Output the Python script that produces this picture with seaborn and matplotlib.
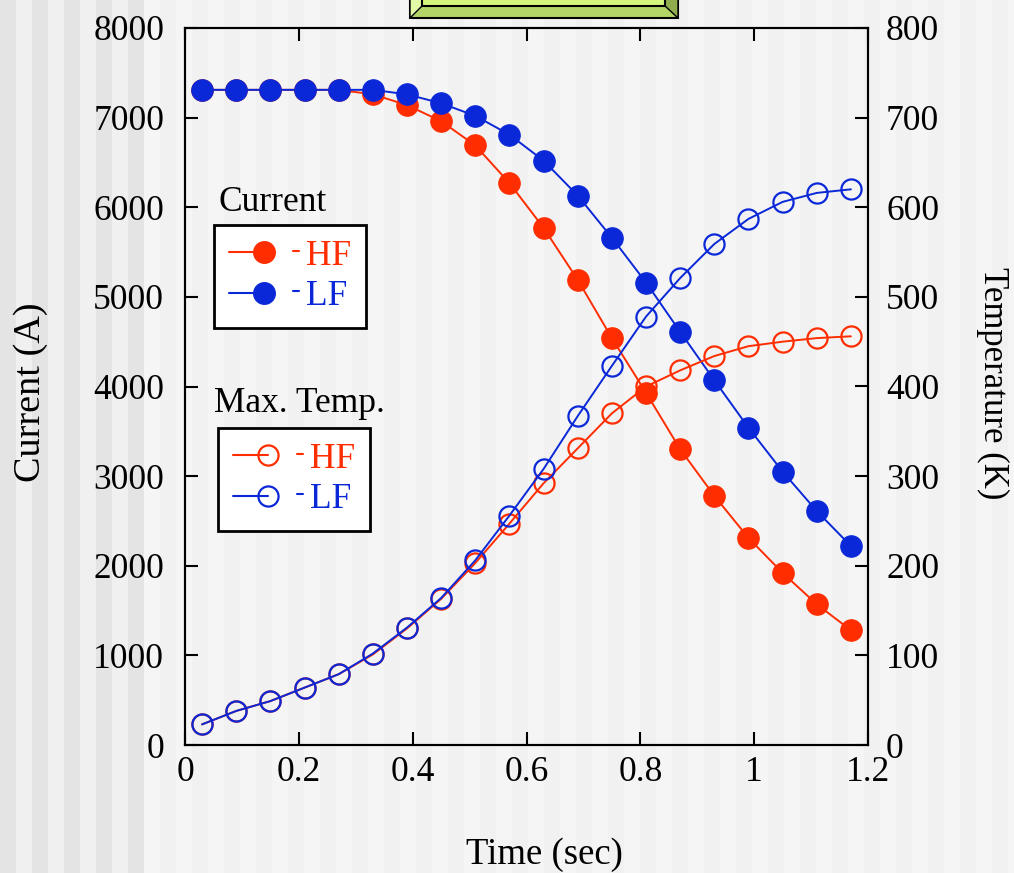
import numpy as np
import pandas as pd
import matplotlib
matplotlib.use("Agg")
import matplotlib.pyplot as plt
import seaborn as sns
from matplotlib.lines import Line2D
from matplotlib.patches import Rectangle, Polygon
from matplotlib.legend_handler import HandlerBase

# ---------------- data ----------------
time = [0.03, 0.09, 0.15, 0.21, 0.27, 0.33, 0.39, 0.45, 0.51, 0.57,
        0.63, 0.69, 0.75, 0.81, 0.87, 0.93, 0.99, 1.05, 1.11, 1.17]
hf_current = [7310, 7310, 7310, 7310, 7310, 7260, 7140, 6960, 6690, 6270,
              5770, 5190, 4540, 3930, 3300, 2780, 2310, 1920, 1570, 1280]
lf_current = [7310, 7310, 7310, 7310, 7310, 7310, 7260, 7160, 7020, 6810,
              6520, 6130, 5660, 5160, 4610, 4070, 3540, 3050, 2610, 2220]
hf_temp = [23, 38, 49, 64, 79, 101, 130, 163, 203, 247,
           292, 331, 370, 400, 418, 434, 445, 450, 454, 456]
lf_temp = [23, 38, 49, 64, 79, 102, 131, 164, 206, 256,
           308, 367, 423, 478, 521, 559, 587, 606, 616, 620]

x_ticks = [0, 0.2, 0.4, 0.6, 0.8, 1.0, 1.2]
x_tick_labels = ["0", "0.2", "0.4", "0.6", "0.8", "1", "1.2"]
y_left_ticks = [0, 1000, 2000, 3000, 4000, 5000, 6000, 7000, 8000]
y_right_ticks = [0, 100, 200, 300, 400, 500, 600, 700, 800]

RED = "#ff2d00"
BLUE = "#0a28d8"

sns.set_theme(style="ticks")
plt.rcParams["font.family"] = ["Liberation Serif", "DejaVu Serif"]
plt.rcParams["axes.linewidth"] = 1.5

W, H = 1014, 873
fig = plt.figure(figsize=(W / 100, H / 100), dpi=100)
fig.patch.set_facecolor("#f4f4f4")

# background stripes (decoration)
for i in range(int(np.ceil(W / 16))):
    x0 = i * 16
    if x0 < 144:
        c = "#e4e4e4" if i % 2 == 0 else "#f0f0f0"
    else:
        c = "#f1f1f1" if i % 2 == 0 else "#f5f5f5"
    fig.add_artist(Rectangle((x0 / W, 0), 16 / W, 1, transform=fig.transFigure,
                             facecolor=c, edgecolor="none", zorder=-10))

# green title button (partially visible at top)
def fp(x, y):
    return (x / W, 1 - y / H)
fig.add_artist(Polygon([fp(410, -2), fp(678, -2), fp(678, 18), fp(410, 18)],
                       closed=True, transform=fig.transFigure, facecolor="#b3d568",
                       edgecolor="black", lw=1.5, zorder=-5))
fig.add_artist(Polygon([fp(665, -2), fp(678, -2), fp(678, 18), fp(665, 6)],
                       closed=True, transform=fig.transFigure, facecolor="#8fac4e",
                       edgecolor="black", lw=1.0, zorder=-4))
fig.add_artist(Polygon([fp(410, -2), fp(422, -2), fp(422, 6), fp(410, 18)],
                       closed=True, transform=fig.transFigure, facecolor="#e2f9a6",
                       edgecolor="black", lw=1.0, zorder=-4))
fig.add_artist(Polygon([fp(422, -2), fp(665, -2), fp(665, 6), fp(422, 6)],
                       closed=True, transform=fig.transFigure, facecolor="#d4f67c",
                       edgecolor="black", lw=1.5, zorder=-3))

ax = fig.add_axes([185 / W, 1 - 745 / H, (868 - 185) / W, (745 - 28) / H])
ax.set_facecolor("none")
ax2 = ax.twinx()
ax2.set_facecolor("none")

df = pd.DataFrame({"time": time, "hf_current": hf_current, "lf_current": lf_current,
                   "hf_temp": hf_temp, "lf_temp": lf_temp})

MSF = 15.5
MSO = 14.5
LW = 1.4
sns.lineplot(data=df, x="time", y="hf_current", ax=ax, color=RED, lw=LW,
             marker="o", markersize=MSF, markeredgecolor=RED, markerfacecolor=RED, zorder=3)
sns.lineplot(data=df, x="time", y="lf_current", ax=ax, color=BLUE, lw=LW,
             marker="o", markersize=MSF, markeredgecolor=BLUE, markerfacecolor=BLUE, zorder=4)
sns.lineplot(data=df, x="time", y="hf_temp", ax=ax2, color=RED, lw=LW,
             marker="o", markersize=MSO, markeredgecolor=RED, markerfacecolor="none",
             markeredgewidth=1.6, zorder=3)
sns.lineplot(data=df, x="time", y="lf_temp", ax=ax2, color=BLUE, lw=LW,
             marker="o", markersize=MSO, markeredgecolor=BLUE, markerfacecolor="none",
             markeredgewidth=1.6, zorder=4)

ax.set_xlim(0, 1.2)
ax.set_ylim(0, 8000)
ax2.set_ylim(0, 800)
ax.set_xticks(x_ticks)
ax.set_xticklabels(x_tick_labels)
ax.set_yticks(y_left_ticks)
ax.set_yticklabels([str(v) for v in y_left_ticks])
ax2.set_yticks(y_right_ticks)
ax2.set_yticklabels([str(v) for v in y_right_ticks])

FS = 25.5
ax.tick_params(axis="x", direction="in", length=9.5, width=1.5, top=True,
               labelsize=FS, pad=8, colors="black")
ax.tick_params(axis="y", direction="in", length=9.5, width=1.5, right=False,
               labelsize=FS, pad=15, colors="black")
ax2.tick_params(axis="y", direction="in", length=9.5, width=1.5,
                labelsize=FS, pad=13, colors="black")
for a in (ax, ax2):
    for s in a.spines.values():
        s.set_visible(True)
        s.set_color("black")
        s.set_linewidth(1.5)

ax.set_xlabel("Time (sec)", fontsize=26.5, color="black", va="center")
ax.xaxis.set_label_coords((544 - 185) / 683, (745 - 855) / 717)
ax.set_ylabel("Current (A)", fontsize=27.5, color="black", va="center")
ax.yaxis.set_label_coords((31 - 185) / 683, (745 - 392) / 717)
ax2.set_ylabel("Temperature (K)", fontsize=25, color="black", rotation=270, va="center")
ax2.yaxis.set_label_coords((993 - 185) / 683, (745 - 383) / 717)


# legend: line with marker at right end, then a small dash
class RightMarkerHandler(HandlerBase):
    def create_artists(self, legend, orig_handle, xdescent, ydescent, width, height,
                       fontsize, trans):
        y = height / 2 - ydescent
        x0, x1 = -xdescent, width - xdescent
        c = orig_handle.get_color()
        ln = Line2D([x0, x1], [y, y], color=c, lw=1.5)
        mk = Line2D([x1], [y], marker="o", markersize=orig_handle.get_markersize(),
                    markerfacecolor=orig_handle.get_markerfacecolor(),
                    markeredgecolor=c, markeredgewidth=orig_handle.get_markeredgewidth(),
                    linestyle="none")
        dash = Line2D([x1 + 0.82 * fontsize, x1 + 0.97 * fontsize],
                      [y + 0.04 * fontsize] * 2, color=c, lw=1.5)
        for a in (ln, mk, dash):
            a.set_transform(trans)
        return [ln, mk, dash]


def make_legend(handles, labels, anchor_xy):
    leg = ax2.legend(handles, labels, loc="upper left",
                     bbox_to_anchor=(anchor_xy[0] / W, 1 - anchor_xy[1] / H),
                     bbox_transform=fig.transFigure, borderaxespad=0,
                     fontsize=FS, frameon=True, fancybox=False, shadow=False,
                     handlelength=1.0, handletextpad=1.18, borderpad=0.42,
                     labelspacing=0.2, handler_map={Line2D: RightMarkerHandler()})
    leg.get_frame().set_edgecolor("black")
    leg.get_frame().set_linewidth(2.0)
    leg.get_frame().set_facecolor("white")
    leg.get_frame().set_alpha(1)
    for t, h in zip(leg.get_texts(), handles):
        t.set_color(h.get_color())
    leg.set_zorder(10)
    return leg


h_cur = [Line2D([], [], color=RED, marker="o", markersize=MSF, markerfacecolor=RED,
                markeredgewidth=1.0),
         Line2D([], [], color=BLUE, marker="o", markersize=MSF, markerfacecolor=BLUE,
                markeredgewidth=1.0)]
h_tmp = [Line2D([], [], color=RED, marker="o", markersize=MSO, markerfacecolor="none",
                markeredgewidth=1.6),
         Line2D([], [], color=BLUE, marker="o", markersize=MSO, markerfacecolor="none",
                markeredgewidth=1.6)]

leg1 = make_legend(h_cur, ["HF", "LF"], (214, 225))
ax2.add_artist(leg1)
leg2 = make_legend(h_tmp, ["HF", "LF"], (218, 428))

fig.text(218 / W, 1 - 202 / H, "Current", fontsize=FS, ha="left", va="center", color="black")
fig.text(214 / W, 1 - 404 / H, "Max. Temp.", fontsize=FS, ha="left", va="center", color="black")

fig.savefig("out.png", dpi=100, facecolor=fig.get_facecolor())
